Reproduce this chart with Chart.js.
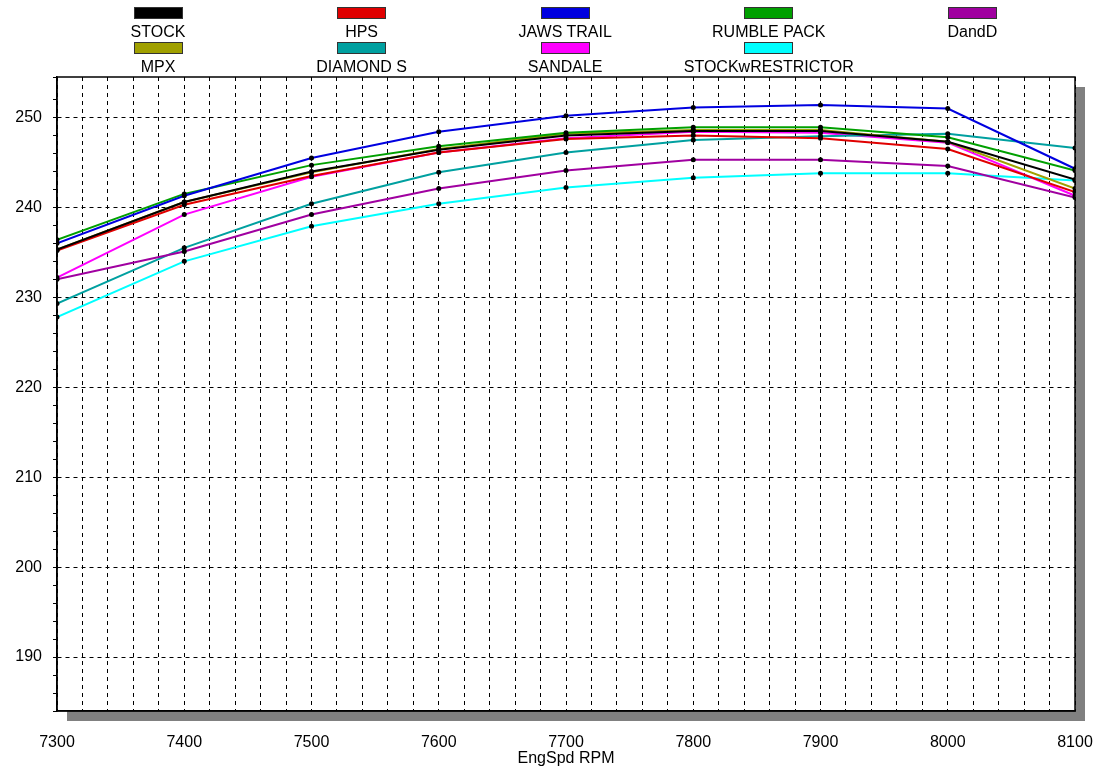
<!DOCTYPE html>
<html>
<head>
<meta charset="utf-8">
<script src="https://cdn.jsdelivr.net/npm/chart.js@4"></script>
<style>
    html, body { margin: 0; padding: 0; background: #fff; }
    #wrap { position: relative; width: 1102px; height: 774px; }
    #legend { position: absolute; left: 0; top: 0; width: 1102px; height: 77px; font-family: "Liberation Sans", Arial, sans-serif; font-size: 16px; color: #000; }
    .item { position: absolute; width: 204px; text-align: center; }
    .box { width: 47px; height: 10px; margin: 0 auto; border: 1px solid #333; }
    .lbl { margin-top: 5px; line-height: 16px; }
</style>
</head>
<body>
<div id="wrap">
    <div id="legend"></div>
    <canvas id="powerChart" width="1102" height="774"></canvas>
</div>
<script>
const rpm = [7300, 7400, 7500, 7600, 7700, 7800, 7900, 8000, 8100];

const stock = [235.3, 240.6, 244.0, 246.4, 248.0, 248.5, 248.5, 247.3, 243.1];
const hps = [235.2, 240.3, 243.5, 246.1, 247.6, 248.0, 247.7, 246.5, 241.7];
const jawsTrail = [236.0, 241.3, 245.5, 248.4, 250.2, 251.1, 251.4, 251.0, 244.3];
const rumblePack = [236.4, 241.5, 244.7, 246.8, 248.3, 248.9, 248.9, 247.8, 244.1];
const dandD = [232.0, 235.1, 239.2, 242.1, 244.1, 245.3, 245.3, 244.6, 241.1];
const mpx = [235.3, 240.6, 243.9, 246.5, 248.2, 248.6, 248.6, 247.3, 242.1];
const diamondS = [229.3, 235.5, 240.4, 243.9, 246.1, 247.5, 247.9, 248.2, 246.6];
const sandale = [232.2, 239.2, 243.4, 246.1, 247.7, 248.4, 248.3, 247.2, 241.3];
const stockWRestrictor = [227.8, 234.0, 237.9, 240.4, 242.2, 243.3, 243.8, 243.8, 243.0];

const seriesNames = ['STOCK', 'HPS', 'JAWS TRAIL', 'RUMBLE PACK', 'DandD', 'MPX', 'DIAMOND S', 'SANDALE', 'STOCKwRESTRICTOR'];
const seriesValues = [stock, hps, jawsTrail, rumblePack, dandD, mpx, diamondS, sandale, stockWRestrictor];
const seriesColors = ['#000000', '#e00000', '#0000e0', '#00a000', '#a000a0', '#a0a000', '#00a0a0', '#ff00ff', '#00ffff'];

const yTickMin = 184;
const yTickMax = 254.5;

// legend: colour box above the name, 5 columns over the plot width
function buildLegend() {
    const legend = document.getElementById('legend');
    seriesNames.forEach((name, i) => {
        const col = i % 5;
        const row = Math.floor(i / 5);
        const item = document.createElement('div');
        item.className = 'item';
        item.style.left = (56 + col * 203.6) + 'px';
        item.style.top = (7 + row * 35) + 'px';
        const box = document.createElement('div');
        box.className = 'box';
        box.style.background = seriesColors[i];
        const lbl = document.createElement('div');
        lbl.className = 'lbl';
        lbl.textContent = name;
        item.appendChild(box);
        item.appendChild(lbl);
        legend.appendChild(item);
    });
}

// grey drop shadow and white plot area, then a solid frame on top
const framePlugin = {
    id: 'frame',
    beforeDraw(chart) {
        const { ctx, chartArea: a } = chart;
        ctx.save();
        ctx.fillStyle = '#808080';
        ctx.fillRect(a.left + 10, a.top + 10, a.right - a.left, a.bottom - a.top);
        ctx.fillStyle = '#ffffff';
        ctx.fillRect(a.left, a.top, a.right - a.left, a.bottom - a.top);
        ctx.restore();
    },
    afterDraw(chart) {
        const { ctx, chartArea: a } = chart;
        ctx.save();
        ctx.strokeStyle = '#000';
        ctx.lineWidth = 1.5;
        ctx.strokeRect(a.left, a.top, a.right - a.left, a.bottom - a.top);
        ctx.restore();
    }
};

function createPowerChart() {
    const datasets = seriesNames.map((name, i) => ({
        label: name,
        data: rpm.map((r, j) => ({ x: r, y: seriesValues[i][j] })),
        borderColor: seriesColors[i],
        backgroundColor: seriesColors[i],
        borderWidth: 2,
        pointRadius: 2.5,
        pointBackgroundColor: '#000',
        pointBorderColor: '#000',
        pointBorderWidth: 0,
        tension: 0,
        fill: false
    }));

    const font = { family: '"Liberation Sans", Arial, sans-serif', size: 16 };

    const config = {
        type: 'line',
        data: { datasets: datasets },
        options: {
            responsive: false,
            animation: false,
            layout: { padding: { top: 77, right: 27, left: 0, bottom: 0 } },
            plugins: {
                legend: { display: false },
                tooltip: { enabled: false }
            },
            scales: {
                x: {
                    type: 'linear',
                    min: 7300,
                    max: 8100,
                    afterFit: scale => { scale.height = 63; },
                    ticks: {
                        stepSize: 20,
                        autoSkip: false,
                        maxRotation: 0,
                        padding: 0,
                        color: '#000',
                        font: font,
                        callback: v => (v % 100 === 0 ? String(v) : '')
                    },
                    grid: { color: '#000', lineWidth: 1, tickLength: 22, tickColor: 'rgba(0,0,0,0)' },
                    border: { display: true, color: '#000', width: 1.5, dash: [4, 4] },
                    title: {
                        display: true,
                        text: 'EngSpd RPM',
                        color: '#000',
                        font: font,
                        padding: { top: 0, bottom: 6 }
                    }
                },
                y: {
                    type: 'linear',
                    min: yTickMin,
                    max: yTickMax,
                    afterFit: scale => { scale.width = 57; },
                    ticks: {
                        stepSize: 2,
                        autoSkip: false,
                        padding: 11,
                        color: '#000',
                        font: font,
                        callback: v => (v % 10 === 0 ? String(v) : '')
                    },
                    grid: {
                        color: ctx => (ctx.tick && ctx.tick.value % 10 === 0 ? '#000' : 'rgba(0,0,0,0)'),
                        tickColor: '#000',
                        tickLength: 4,
                        lineWidth: 1
                    },
                    border: { display: true, color: '#000', width: 1.5, dash: [4, 4] }
                }
            }
        },
        plugins: [framePlugin]
    };

    const ctx = document.getElementById('powerChart').getContext('2d');
    new Chart(ctx, config);
}

buildLegend();
createPowerChart();
</script>
</body>
</html>
